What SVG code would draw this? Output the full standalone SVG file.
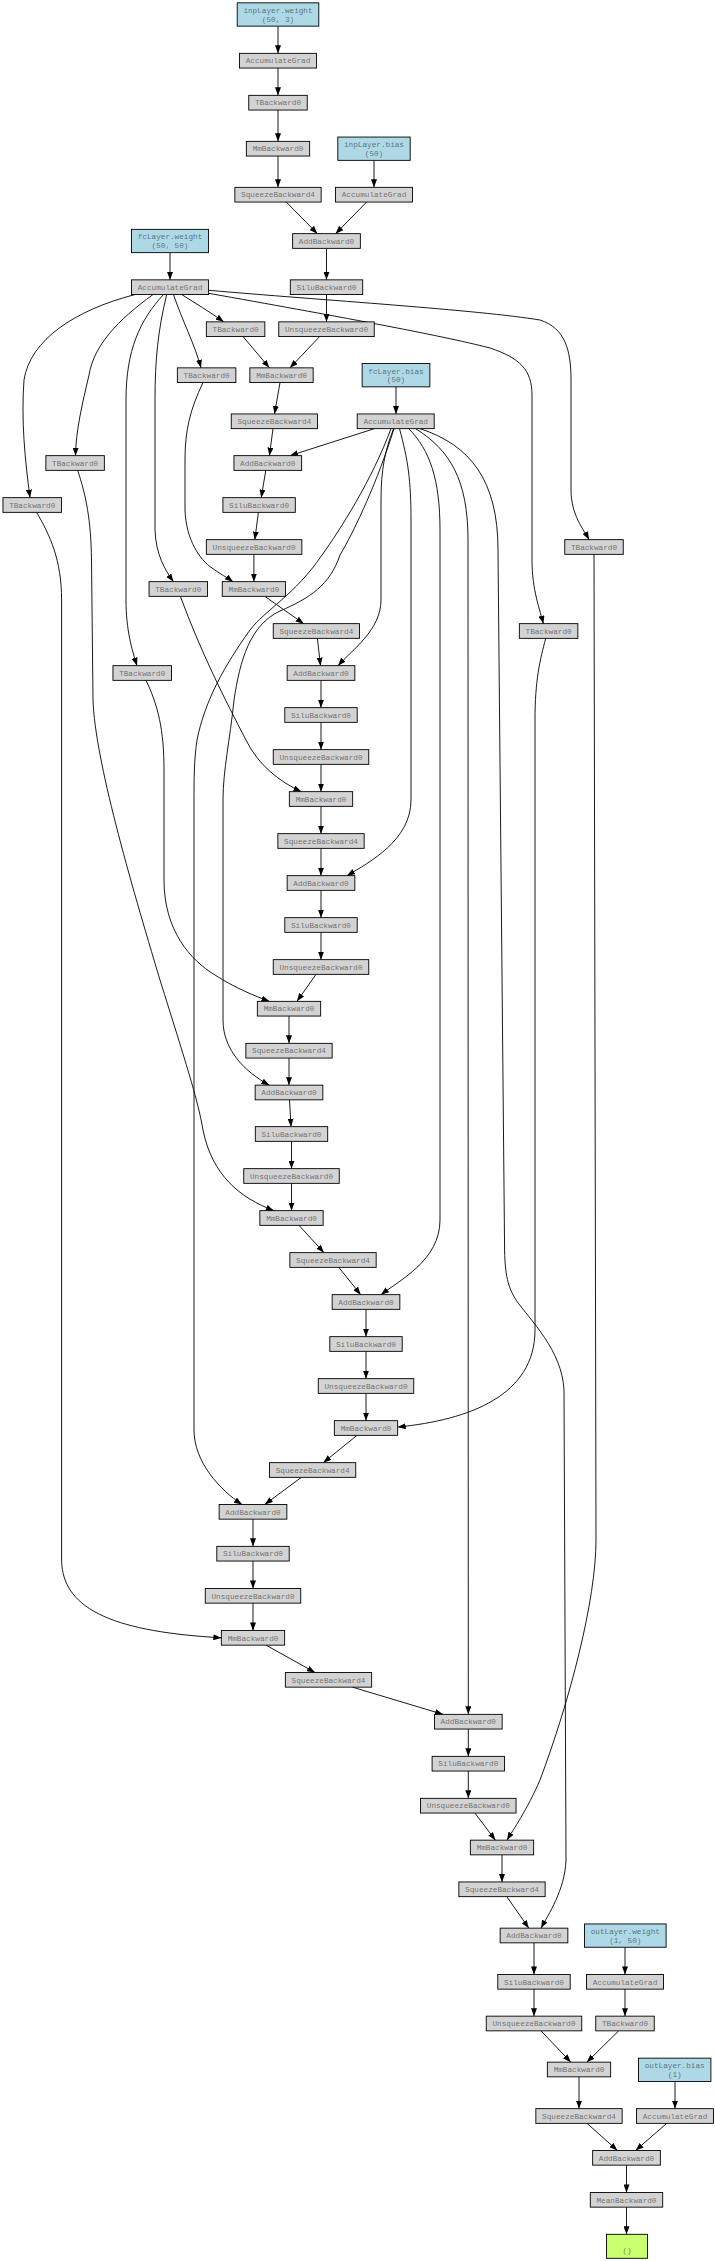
<svg xmlns="http://www.w3.org/2000/svg" width="715" height="2261" viewBox="0 0 715 2261">
<style>
.n rect,.p rect,.o rect{stroke:#000;stroke-width:0.9}
.n rect{fill:#d3d3d3}
.p rect{fill:#add8e6}
.o rect{fill:#caff70}
text{font-family:"Liberation Mono","DejaVu Sans Mono",monospace;font-size:7.7px;fill:#000;fill-opacity:0.5;text-anchor:middle}
#edges path{fill:none;stroke:#000;stroke-width:0.9;marker-end:url(#ah)}
</style>
<defs>
<marker id="ah" markerUnits="userSpaceOnUse" markerWidth="8" markerHeight="6" viewBox="0 0 8 6" refX="8" refY="3" orient="auto"><path d="M0,0 L8,3 L0,6 z" fill="#000"/></marker>
</defs>
<rect width="715" height="2261" fill="#fff"/>
<g id="edges">
<path d="M278,26.2 L278,53.35"/>
<path d="M278,68.05 L278,95.35"/>
<path d="M278,110.05 L278,141.35"/>
<path d="M278,156.05 L278,187.35"/>
<path d="M374,160.35 L374,187.35"/>
<path d="M286.3,202.05 L317.4,233.65"/>
<path d="M366.7,202.05 L335.6,233.65"/>
<path d="M326.5,248.35 L326.5,279.85"/>
<path d="M170,252.65 L170,279.85"/>
<path d="M326.5,294.55 L326.5,321.85"/>
<path d="M181.7,294.55 C195,303 210,312 223.7,321.85"/>
<path d="M173.5,294.55 C182,320 195,345 201,367.85"/>
<path d="M319.6,336.55 L290,367.85"/>
<path d="M243,336.55 L269.4,367.85"/>
<path d="M153,294.55 C118,320 94,345 89,375 C82,405 76,430 75.5,455.65"/>
<path d="M135,294.55 C75,310 30,340 24,380 C21,420 25,460 30,497.65"/>
<path d="M163.5,294.55 C140,320 126,350 126,400 L126,600 C126,630 132,650 137,665.65"/>
<path d="M166.7,294.55 C158,330 155,360 155,400 L155,530 C156,555 165,570 173.5,581.65"/>
<path d="M208.7,293.3 C330,315 440,335 490,348 C520,358 532,370 532,395 L532,560 C532,590 540,610 543.4,623.65"/>
<path d="M208.7,290.3 C320,300 480,310 540,320 C565,328 571,350 571,380 L571,490 C571,515 584,530 589,539.65"/>
<path d="M396,386.85 L396,413.95"/>
<path d="M280,382.55 L274.5,413.95"/>
<path d="M273,428.65 L269.4,455.65"/>
<path d="M374.4,428.65 L290,455.65"/>
<path d="M265.8,470.35 L261.2,497.65"/>
<path d="M258.4,512.35 L254.8,539.65"/>
<path d="M253.9,554.35 L253.9,581.65"/>
<path d="M203,382.55 C190,410 185,430 185,460 L185,510 C186,540 200,560 212,568 C220,574 228,578 233,581.65"/>
<path d="M264.8,596.35 L303.7,623.65"/>
<path d="M317.4,638.35 L320.5,665.65"/>
<path d="M393.6,428.65 C385,450 381,470 381,500 L381,600 C381,630 352,650 338,665.65"/>
<path d="M321,680.35 L321,707.65"/>
<path d="M321,722.35 L321,749.65"/>
<path d="M321,764.35 L321,791.65"/>
<path d="M180.4,596.35 C200,650 225,700 246,740 C258,765 280,782 301.4,791.65"/>
<path d="M321,806.35 L321,833.65"/>
<path d="M321,848.35 L321,875.65"/>
<path d="M399.5,428.65 C408,460 411,480 411,520 L411,800 C411,840 370,862 347,875.65"/>
<path d="M321,890.35 L321,917.65"/>
<path d="M321,932.35 L321,959.65"/>
<path d="M316,974.35 L297,1001.35"/>
<path d="M146,680.35 C158,705 164,730 164,770 L164,880 C164,930 190,960 215,975 C235,988 255,996 269.4,1001.35"/>
<path d="M289,1016.05 L289,1043.35"/>
<path d="M289,1058.05 L289,1085.15"/>
<path d="M394,428.65 C378,480 355,530 340,555 C330,585 310,598 280,611 C250,625 240,660 234,700 C230,740 223,770 223,800 L223,1020 C223,1050 245,1072 269.4,1085.15"/>
<path d="M289.5,1099.85 L291,1126.65"/>
<path d="M291.5,1141.35 L291.5,1168.65"/>
<path d="M291.5,1183.35 L291.5,1210.65"/>
<path d="M77.6,470.35 C86,495 91,520 91.5,560 L93,700 C95,760 130,880 160,980 C185,1060 198,1100 203,1130 C212,1175 240,1198 274,1210.65"/>
<path d="M299,1225.35 L324,1252.65"/>
<path d="M338.8,1267.35 L360.7,1294.65"/>
<path d="M408.7,428.65 C430,450 440,480 440,530 L440,1220 C440,1260 400,1280 381,1294.65"/>
<path d="M366,1309.35 L366,1336.65"/>
<path d="M366,1351.35 L366,1378.65"/>
<path d="M366,1393.35 L366,1420.65"/>
<path d="M545.7,638.35 C540,660 535,680 535,720 L535,1330 C535,1395 470,1420 397.7,1427"/>
<path d="M357,1435.35 L323.3,1462.65"/>
<path d="M301.4,1477.35 L264.8,1504.45"/>
<path d="M391,428.65 C372,480 340,530 322,555 C295,595 265,610 250,630 C225,665 205,700 197,740 C194,760 194,780 194,800 L194,1430 C194,1462 220,1490 242,1504.45"/>
<path d="M253,1519.15 L253,1546.35"/>
<path d="M253,1561.05 L253,1588.45"/>
<path d="M253,1603.15 L253,1630.45"/>
<path d="M36.5,512.35 C50,535 61.6,560 61.6,600 L61.6,1560 C62,1612 120,1632 221.35,1637.8"/>
<path d="M266,1645.15 L315,1672.45"/>
<path d="M352.5,1687.15 L443,1714.35"/>
<path d="M415.5,428.65 C450,450 468,480 468,540 L468.3,1714.35"/>
<path d="M468.3,1729.05 L468.3,1756.35"/>
<path d="M468.3,1771.05 L468.3,1798.35"/>
<path d="M474.9,1813.05 L495.4,1840.15"/>
<path d="M594,554.35 L596,1540 C596,1600 570,1700 540,1780 C527,1810 513,1830 507,1840.15"/>
<path d="M502,1854.85 L502,1881.95"/>
<path d="M506.8,1896.65 L528.8,1928.15"/>
<path d="M420,428.65 C470,445 498,480 498,550 L504.6,1250 C505,1280 510,1290 516,1300 C530,1320 562,1350 564,1390 L566,1860 C565,1890 548,1915 541,1928.15"/>
<path d="M625,1947.25 L625,1974.45"/>
<path d="M534,1942.85 L534,1974.45"/>
<path d="M534,1989.15 L534,2016.15"/>
<path d="M625,1989.15 L625,2016.15"/>
<path d="M541,2030.85 L570.8,2062.15"/>
<path d="M618.7,2030.85 L586.8,2062.15"/>
<path d="M579,2076.85 L579,2108.65"/>
<path d="M675,2081.45 L675,2108.65"/>
<path d="M587,2123.35 L617.4,2150.45"/>
<path d="M666.7,2123.35 L635.6,2150.45"/>
<path d="M626.5,2165.15 L626.5,2192.45"/>
<path d="M626.5,2207.15 L626.5,2234.3"/>
</g>
<g id="inW" class="p"><rect x="237.2" y="2.85" width="81.6" height="23.3"/><text x="278" y="12.9">inpLayer.weight</text><text x="278" y="21.5">(50, 3)</text></g>
<g id="A1" class="n"><rect x="239.5" y="53.35" width="77" height="14.7"/><text x="278" y="63.4">AccumulateGrad</text></g>
<g id="T1" class="n"><rect x="248.75" y="95.35" width="58.5" height="14.7"/><text x="278" y="105.4">TBackward0</text></g>
<g id="M1" class="n"><rect x="246.35" y="141.35" width="63.3" height="14.7"/><text x="278" y="151.4">MmBackward0</text></g>
<g id="inB" class="p"><rect x="337.8" y="137.05" width="72.4" height="23.3"/><text x="374" y="147.1">inpLayer.bias</text><text x="374" y="155.7">(50)</text></g>
<g id="S1" class="n"><rect x="234.85" y="187.35" width="86.3" height="14.7"/><text x="278" y="197.4">SqueezeBackward4</text></g>
<g id="AB1" class="n"><rect x="335.5" y="187.35" width="77" height="14.7"/><text x="374" y="197.4">AccumulateGrad</text></g>
<g id="Add1" class="n"><rect x="292.65" y="233.65" width="67.7" height="14.7"/><text x="326.5" y="243.7">AddBackward0</text></g>
<g id="fcW" class="p"><rect x="131.5" y="229.35" width="77" height="23.3"/><text x="170" y="239.4">fcLayer.weight</text><text x="170" y="248">(50, 50)</text></g>
<g id="SiLU1" class="n"><rect x="290.3" y="279.85" width="72.4" height="14.7"/><text x="326.5" y="289.9">SiluBackward0</text></g>
<g id="AFC" class="n"><rect x="131.5" y="279.85" width="77" height="14.7"/><text x="170" y="289.9">AccumulateGrad</text></g>
<g id="Ta" class="n"><rect x="206.35" y="321.85" width="58.5" height="14.7"/><text x="235.6" y="331.9">TBackward0</text></g>
<g id="Unsq1" class="n"><rect x="278.75" y="321.85" width="95.5" height="14.7"/><text x="326.5" y="331.9">UnsqueezeBackward0</text></g>
<g id="Tb" class="n"><rect x="177.35" y="367.85" width="58.5" height="14.7"/><text x="206.6" y="377.9">TBackward0</text></g>
<g id="Mm2" class="n"><rect x="249.85" y="367.85" width="63.3" height="14.7"/><text x="281.5" y="377.9">MmBackward0</text></g>
<g id="fcB" class="p"><rect x="362.15" y="363.55" width="67.7" height="23.3"/><text x="396" y="373.6">fcLayer.bias</text><text x="396" y="382.2">(50)</text></g>
<g id="S2" class="n"><rect x="231.25" y="413.95" width="86.3" height="14.7"/><text x="274.4" y="424">SqueezeBackward4</text></g>
<g id="AFB" class="n"><rect x="357.2" y="413.95" width="77" height="14.7"/><text x="395.7" y="424">AccumulateGrad</text></g>
<g id="Tc" class="n"><rect x="45.85" y="455.65" width="58.5" height="14.7"/><text x="75.1" y="465.7">TBackward0</text></g>
<g id="Add2" class="n"><rect x="233.95" y="455.65" width="67.7" height="14.7"/><text x="267.8" y="465.7">AddBackward0</text></g>
<g id="Td" class="n"><rect x="2.95" y="497.65" width="58.5" height="14.7"/><text x="32.2" y="507.7">TBackward0</text></g>
<g id="SiLU2" class="n"><rect x="222.9" y="497.65" width="72.4" height="14.7"/><text x="259.1" y="507.7">SiluBackward0</text></g>
<g id="Unsq2" class="n"><rect x="206.35" y="539.65" width="95.5" height="14.7"/><text x="254.1" y="549.7">UnsqueezeBackward0</text></g>
<g id="Te" class="n"><rect x="564.75" y="539.65" width="58.5" height="14.7"/><text x="594" y="549.7">TBackward0</text></g>
<g id="Tf" class="n"><rect x="149.05" y="581.65" width="58.5" height="14.7"/><text x="178.3" y="591.7">TBackward0</text></g>
<g id="Mm3" class="n"><rect x="222.25" y="581.65" width="63.3" height="14.7"/><text x="253.9" y="591.7">MmBackward0</text></g>
<g id="S3" class="n"><rect x="273.25" y="623.65" width="86.3" height="14.7"/><text x="316.4" y="633.7">SqueezeBackward4</text></g>
<g id="Tg" class="n"><rect x="519.35" y="623.65" width="58.5" height="14.7"/><text x="548.6" y="633.7">TBackward0</text></g>
<g id="Th" class="n"><rect x="112.95" y="665.65" width="58.5" height="14.7"/><text x="142.2" y="675.7">TBackward0</text></g>
<g id="Add3" class="n"><rect x="287.15" y="665.65" width="67.7" height="14.7"/><text x="321" y="675.7">AddBackward0</text></g>
<g id="SiLU3" class="n"><rect x="284.8" y="707.65" width="72.4" height="14.7"/><text x="321" y="717.7">SiluBackward0</text></g>
<g id="Unsq3" class="n"><rect x="273.25" y="749.65" width="95.5" height="14.7"/><text x="321" y="759.7">UnsqueezeBackward0</text></g>
<g id="Mm4" class="n"><rect x="289.35" y="791.65" width="63.3" height="14.7"/><text x="321" y="801.7">MmBackward0</text></g>
<g id="S4" class="n"><rect x="277.85" y="833.65" width="86.3" height="14.7"/><text x="321" y="843.7">SqueezeBackward4</text></g>
<g id="Add4" class="n"><rect x="287.15" y="875.65" width="67.7" height="14.7"/><text x="321" y="885.7">AddBackward0</text></g>
<g id="SiLU4" class="n"><rect x="284.8" y="917.65" width="72.4" height="14.7"/><text x="321" y="927.7">SiluBackward0</text></g>
<g id="Unsq4" class="n"><rect x="273.25" y="959.65" width="95.5" height="14.7"/><text x="321" y="969.7">UnsqueezeBackward0</text></g>
<g id="Mm5" class="n"><rect x="257.35" y="1001.35" width="63.3" height="14.7"/><text x="289" y="1011.4">MmBackward0</text></g>
<g id="S5" class="n"><rect x="245.85" y="1043.35" width="86.3" height="14.7"/><text x="289" y="1053.4">SqueezeBackward4</text></g>
<g id="Add5" class="n"><rect x="255.15" y="1085.15" width="67.7" height="14.7"/><text x="289" y="1095.2">AddBackward0</text></g>
<g id="SiLU5" class="n"><rect x="255.3" y="1126.65" width="72.4" height="14.7"/><text x="291.5" y="1136.7">SiluBackward0</text></g>
<g id="Unsq5" class="n"><rect x="243.75" y="1168.65" width="95.5" height="14.7"/><text x="291.5" y="1178.7">UnsqueezeBackward0</text></g>
<g id="Mm6" class="n"><rect x="259.85" y="1210.65" width="63.3" height="14.7"/><text x="291.5" y="1220.7">MmBackward0</text></g>
<g id="S6" class="n"><rect x="289.85" y="1252.65" width="86.3" height="14.7"/><text x="333" y="1262.7">SqueezeBackward4</text></g>
<g id="Add6" class="n"><rect x="332.15" y="1294.65" width="67.7" height="14.7"/><text x="366" y="1304.7">AddBackward0</text></g>
<g id="SiLU6" class="n"><rect x="329.8" y="1336.65" width="72.4" height="14.7"/><text x="366" y="1346.7">SiluBackward0</text></g>
<g id="Unsq6" class="n"><rect x="318.25" y="1378.65" width="95.5" height="14.7"/><text x="366" y="1388.7">UnsqueezeBackward0</text></g>
<g id="Mm7" class="n"><rect x="334.35" y="1420.65" width="63.3" height="14.7"/><text x="366" y="1430.7">MmBackward0</text></g>
<g id="S7" class="n"><rect x="269.45" y="1462.65" width="86.3" height="14.7"/><text x="312.6" y="1472.7">SqueezeBackward4</text></g>
<g id="Add7" class="n"><rect x="219.15" y="1504.45" width="67.7" height="14.7"/><text x="253" y="1514.5">AddBackward0</text></g>
<g id="SiLU7" class="n"><rect x="216.8" y="1546.35" width="72.4" height="14.7"/><text x="253" y="1556.4">SiluBackward0</text></g>
<g id="Unsq7" class="n"><rect x="205.25" y="1588.45" width="95.5" height="14.7"/><text x="253" y="1598.5">UnsqueezeBackward0</text></g>
<g id="Mm8" class="n"><rect x="221.35" y="1630.45" width="63.3" height="14.7"/><text x="253" y="1640.5">MmBackward0</text></g>
<g id="S8" class="n"><rect x="285.35" y="1672.45" width="86.3" height="14.7"/><text x="328.5" y="1682.5">SqueezeBackward4</text></g>
<g id="Add8" class="n"><rect x="434.45" y="1714.35" width="67.7" height="14.7"/><text x="468.3" y="1724.4">AddBackward0</text></g>
<g id="SiLU8" class="n"><rect x="432.1" y="1756.35" width="72.4" height="14.7"/><text x="468.3" y="1766.4">SiluBackward0</text></g>
<g id="Unsq8" class="n"><rect x="420.55" y="1798.35" width="95.5" height="14.7"/><text x="468.3" y="1808.4">UnsqueezeBackward0</text></g>
<g id="Mm9" class="n"><rect x="470.35" y="1840.15" width="63.3" height="14.7"/><text x="502" y="1850.2">MmBackward0</text></g>
<g id="S9" class="n"><rect x="458.85" y="1881.95" width="86.3" height="14.7"/><text x="502" y="1892">SqueezeBackward4</text></g>
<g id="Add9" class="n"><rect x="500.15" y="1928.15" width="67.7" height="14.7"/><text x="534" y="1938.2">AddBackward0</text></g>
<g id="oW" class="p"><rect x="584.5" y="1923.95" width="81.6" height="23.3"/><text x="625.3" y="1934">outLayer.weight</text><text x="625.3" y="1942.6">(1, 50)</text></g>
<g id="SiLU9" class="n"><rect x="497.8" y="1974.45" width="72.4" height="14.7"/><text x="534" y="1984.5">SiluBackward0</text></g>
<g id="AOW" class="n"><rect x="586.5" y="1974.45" width="77" height="14.7"/><text x="625" y="1984.5">AccumulateGrad</text></g>
<g id="Unsq9" class="n"><rect x="486.25" y="2016.15" width="95.5" height="14.7"/><text x="534" y="2026.2">UnsqueezeBackward0</text></g>
<g id="Tout" class="n"><rect x="595.75" y="2016.15" width="58.5" height="14.7"/><text x="625" y="2026.2">TBackward0</text></g>
<g id="Mm10" class="n"><rect x="547.35" y="2062.15" width="63.3" height="14.7"/><text x="579" y="2072.2">MmBackward0</text></g>
<g id="oB" class="p"><rect x="638.5" y="2058.15" width="72.4" height="23.3"/><text x="674.7" y="2068.2">outLayer.bias</text><text x="674.7" y="2076.8">(1)</text></g>
<g id="S10" class="n"><rect x="535.85" y="2108.65" width="86.3" height="14.7"/><text x="579" y="2118.7">SqueezeBackward4</text></g>
<g id="AOB" class="n"><rect x="636.5" y="2108.65" width="77" height="14.7"/><text x="675" y="2118.7">AccumulateGrad</text></g>
<g id="Add10" class="n"><rect x="592.65" y="2150.45" width="67.7" height="14.7"/><text x="626.5" y="2160.5">AddBackward0</text></g>
<g id="Mean" class="n"><rect x="590.3" y="2192.45" width="72.4" height="14.7"/><text x="626.5" y="2202.5">MeanBackward0</text></g>
<g id="Out" class="o"><rect x="606.5" y="2234.3" width="41" height="24"/><text x="627" y="2253">()</text></g>
</svg>
